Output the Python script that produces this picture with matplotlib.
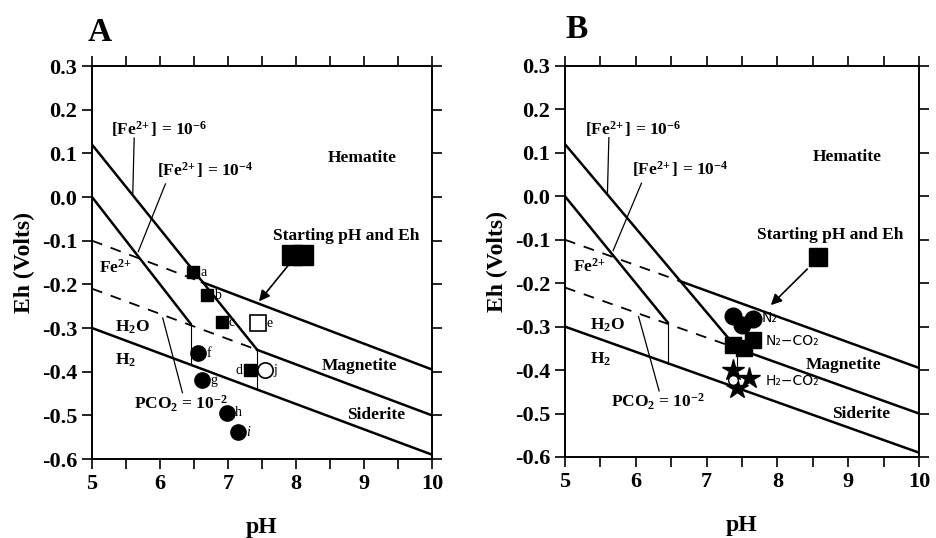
import matplotlib
matplotlib.use("Agg")
import matplotlib.pyplot as plt
import numpy as np
from matplotlib.ticker import MultipleLocator, FuncFormatter

plt.rcParams['font.family'] = ['Liberation Serif', 'DejaVu Serif']
plt.rcParams['font.weight'] = 'bold'
plt.rcParams['axes.unicode_minus'] = False
plt.rcParams['mathtext.fontset'] = 'custom'
plt.rcParams['mathtext.rm'] = 'Liberation Serif:bold'
plt.rcParams['mathtext.it'] = 'Liberation Serif:italic:bold'
plt.rcParams['mathtext.bf'] = 'Liberation Serif:bold'

# stability boundaries (pH, Eh)
fe6_ph = [5.0, 7.43]
fe6_eh = [0.12, -0.35]
fe6_vert_eh = [-0.35, -0.44]
fe4_ph = [5.0, 6.45]
fe4_eh = [0.0, -0.29]
fe4_vert_eh = [-0.29, -0.385]
hm_ph = [6.62, 10.0]
hm_eh = [-0.195, -0.395]
hm_dash_ph = [5.0, 6.62]
hm_dash_eh = [-0.10, -0.195]
ms_ph = [7.43, 10.0]
ms_eh = [-0.35, -0.50]
ms_dash_ph = [5.0, 7.43]
ms_dash_eh = [-0.21, -0.35]
h2o_ph = [5.0, 10.0]
h2o_eh = [-0.30, -0.59]

# panel A samples
a_sq_lab = ['a', 'b', 'c', 'd']
a_sq_ph = [6.49, 6.69, 6.91, 7.32]
a_sq_eh = [-0.172, -0.225, -0.287, -0.397]
a_ci_lab = ['f', 'g', 'h', 'i']
a_ci_ph = [6.56, 6.62, 6.98, 7.15]
a_ci_eh = [-0.358, -0.42, -0.494, -0.539]
a_open_sq = (7.44, -0.289)   # e
a_open_ci = (7.54, -0.397)   # j
a_start_ph = [7.94, 8.10]
a_start_eh = [-0.133, -0.133]

# panel B samples
b_start = (8.57, -0.14)
b_n2_ph = [7.37, 7.65, 7.50]
b_n2_eh = [-0.276, -0.282, -0.297]
b_n2co2_ph = [7.37, 7.53, 7.65]
b_n2co2_eh = [-0.343, -0.35, -0.33]
b_h2co2_ph = [7.37, 7.60, 7.43]
b_h2co2_eh = [-0.40, -0.419, -0.442]
b_open_ci = (7.38, -0.423)


def setup(ax):
    ax.set_xlim(5, 10)
    ax.set_ylim(-0.6, 0.3)
    ax.xaxis.set_major_locator(MultipleLocator(1))
    ax.xaxis.set_minor_locator(MultipleLocator(0.5))
    ax.yaxis.set_major_locator(MultipleLocator(0.1))
    ax.yaxis.set_major_formatter(FuncFormatter(lambda v, p: "%.1f" % v if abs(v) > 1e-9 else "0.0"))
    ax.tick_params(which='both', direction='out', top=True, right=True,
                   length=7, width=1.2, labelsize=16)
    for s in ax.spines.values():
        s.set_linewidth(1.4)
    ax.set_xlabel('pH', fontsize=17, fontweight='bold', labelpad=17)
    ax.set_ylabel('Eh (Volts)', fontsize=17, fontweight='bold', labelpad=5)


def boundaries(ax):
    k = dict(color='k', lw=1.8, zorder=2)
    ax.plot(fe6_ph, fe6_eh, **k)
    ax.plot(fe4_ph, fe4_eh, **k)
    ax.plot(hm_ph, hm_eh, **k)
    ax.plot(ms_ph, ms_eh, **k)
    ax.plot(h2o_ph, h2o_eh, **k)
    ax.plot(hm_dash_ph, hm_dash_eh, color='k', lw=1.3, ls=(0, (6, 5)))
    ax.plot(ms_dash_ph, ms_dash_eh, color='k', lw=1.3, ls=(0, (6, 5)))
    ax.plot([fe6_ph[1], fe6_ph[1]], fe6_vert_eh, color='k', lw=0.8)
    ax.plot([fe4_ph[1], fe4_ph[1]], fe4_vert_eh, color='k', lw=0.8)


def labels(ax):
    fs = 12.5
    ax.text(5.28, 0.155, r'[Fe$^{2\!+}$] = 10$^{-6}$', fontsize=fs, va='center')
    ax.plot([5.62, 5.60], [0.135, 0.008], color='k', lw=0.9)
    ax.text(5.95, 0.062, r'[Fe$^{2\!+}$] = 10$^{-4}$', fontsize=fs, va='center')
    ax.plot([6.08, 5.68], [0.03, -0.125], color='k', lw=0.9)
    ax.text(8.98, 0.09, 'Hematite', fontsize=fs, ha='center', va='center')
    ax.text(8.74, -0.09, 'Starting pH and Eh', fontsize=fs, ha='center', va='center')
    ax.text(5.35, -0.163, r'Fe$^{2\!+}$', fontsize=fs, ha='center', va='center')
    ax.text(5.6, -0.298, r'H$_2$O', fontsize=fs, ha='center', va='center')
    ax.text(5.5, -0.375, r'H$_2$', fontsize=fs, ha='center', va='center')
    ax.text(6.31, -0.474, r'PCO$_2$ = 10$^{-2}$', fontsize=fs, ha='center', va='center')
    ax.plot([6.33, 6.04], [-0.448, -0.277], color='k', lw=0.9)
    ax.text(8.93, -0.388, 'Magnetite', fontsize=fs, ha='center', va='center')
    ax.text(9.18, -0.50, 'Siderite', fontsize=fs, ha='center', va='center')


fig = plt.figure(figsize=(9.36, 5.38), dpi=100)
axA = fig.add_axes([0.0983, 0.1468, 0.3632, 0.7305])
axB = fig.add_axes([0.6036, 0.1506, 0.3782, 0.7268])

for ax in (axA, axB):
    setup(ax)
    boundaries(ax)
    labels(ax)

# ---- panel A
axA.plot(a_sq_ph, a_sq_eh, 's', color='k', ms=9, zorder=3)
axA.plot(a_ci_ph, a_ci_eh, 'o', color='k', ms=11, zorder=3)
axA.plot(*a_open_sq, 's', mfc='white', mec='k', mew=1.2, ms=11, zorder=3)
axA.plot(*a_open_ci, 'o', mfc='white', mec='k', mew=1.2, ms=11, zorder=3)
for lab, x, y in zip(a_sq_lab, a_sq_ph, a_sq_eh):
    if lab == 'd':
        axA.text(x - 0.1, y, lab, fontsize=10, fontweight='normal', ha='right', va='center')
    else:
        axA.text(x + 0.1, y, lab, fontsize=10, fontweight='normal', ha='left', va='center')
for lab, x, y in zip(a_ci_lab, a_ci_ph, a_ci_eh):
    axA.text(x + 0.12, y, lab, fontsize=10, fontweight='normal', ha='left', va='center',
             style='italic' if lab == 'i' else 'normal')
axA.text(a_open_sq[0] + 0.13, a_open_sq[1], 'e', fontsize=10, fontweight='normal', va='center')
axA.text(a_open_ci[0] + 0.13, a_open_ci[1], 'j', fontsize=10, fontweight='normal', va='center')
axA.plot(a_start_ph, a_start_eh, 's', color='k', ms=15, zorder=3)
axA.annotate('', xy=(7.43, -0.244), xytext=(7.91, -0.152),
             arrowprops=dict(arrowstyle='-|>', color='k', lw=1.2, mutation_scale=16))
fig.text(0.094, 0.94, 'A', fontsize=24, fontweight='bold', va='center')

# ---- panel B
axB.plot(*b_start, 's', color='k', ms=13, zorder=3)
axB.annotate('', xy=(7.88, -0.255), xytext=(8.45, -0.163),
             arrowprops=dict(arrowstyle='-|>', color='k', lw=1.2, mutation_scale=16))
axB.plot(b_n2_ph, b_n2_eh, 'o', color='k', ms=12, zorder=3)
axB.plot(b_n2co2_ph, b_n2co2_eh, 's', color='k', ms=11, zorder=3)
axB.plot(b_h2co2_ph, b_h2co2_eh, '*', color='k', ms=16, zorder=3)
axB.plot(*b_open_ci, 'o', mfc='white', mec='k', mew=1.0, ms=7, zorder=4)
sans = ['DejaVu Sans']
axB.text(7.78, -0.28, 'N₂', fontsize=10, family=sans, fontweight='normal', va='center')
axB.text(7.83, -0.333, 'N₂−CO₂', fontsize=10, family=sans, fontweight='normal', va='center')
axB.text(7.83, -0.425, 'H₂−CO₂', fontsize=10, family=sans, fontweight='normal', va='center')
fig.text(0.604, 0.945, 'B', fontsize=24, fontweight='bold', va='center')

fig.savefig('out.png', dpi=100)
